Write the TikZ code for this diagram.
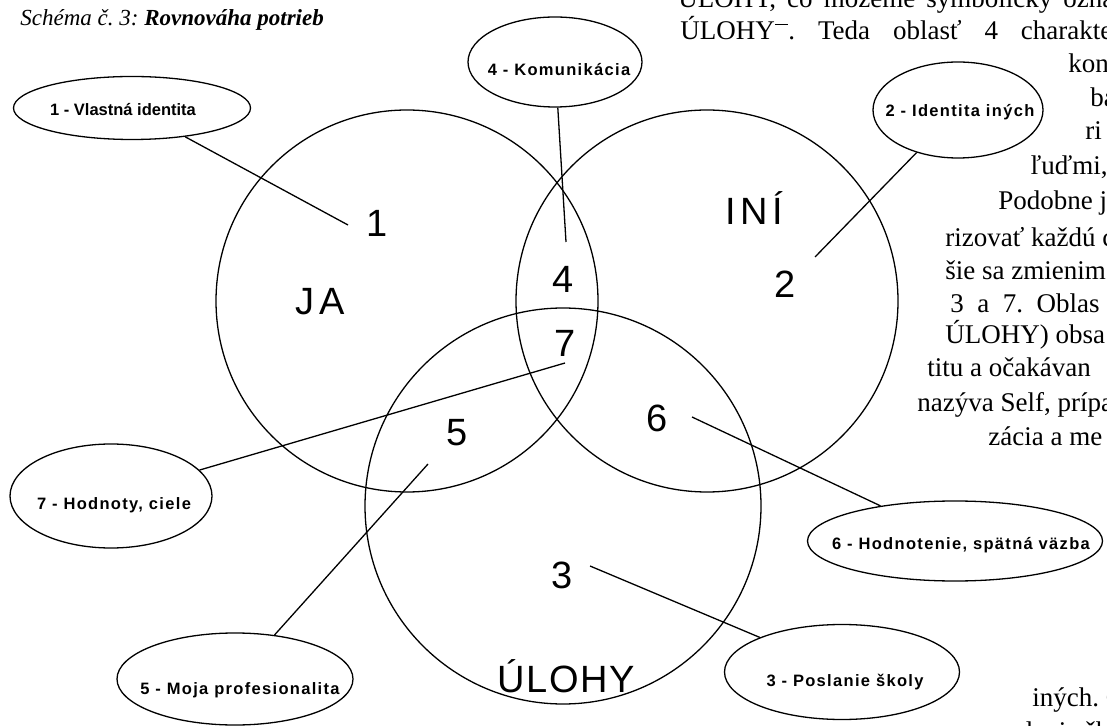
\documentclass[tikz,border=0pt]{standalone}
\usepackage{fontspec}
\setmainfont{Liberation Serif}
\newfontfamily\elab[LetterSpace=8]{Liberation Sans}
\newfontfamily\elabplain{Liberation Sans}
\newfontfamily\biglab[LetterSpace=12]{Liberation Sans}
\newfontfamily\wordlab[LetterSpace=4]{Liberation Sans}
\usetikzlibrary{shapes.geometric}
\frenchspacing
\begin{document}
\begin{tikzpicture}[x=0.5pt,y=-0.5pt,
  circ/.style={circle, draw, inner sep=0pt, line width=0.65pt},
  ell/.style={ellipse, draw, inner sep=0pt, line width=0.65pt},
  etext/.style={font=\elab\bfseries\fontsize{8.25}{10}\selectfont, inner sep=0pt},
  num/.style={font=\biglab\fontsize{19}{22}\selectfont, anchor=base, inner sep=0pt},
  body/.style={font=\fontsize{13.5}{16}\selectfont, anchor=base west, inner sep=0pt},
  link/.style={line width=0.65pt}]
\useasboundingbox (0,0) rectangle (1107,726);
\clip (0,0) rectangle (1107,726);

% title
\node[anchor=base west, inner sep=0pt, font=\fontsize{11.5}{14}\selectfont] (title) at (20,26)
  {\itshape Schéma č. 3: \bfseries Rovnováha potrieb};

% body text fragments
\node[body] (b1) at (678,8) {\makebox[218pt][s]{ÚLOHY, čo môžeme symbolicky ozna}};
\node[body] (b2) at (680,40) {\makebox[216pt][s]{ÚLOHY\raisebox{0.55em}{\rule{0.5em}{0.06em}}. Teda oblasť 4 charakte}};
\node[body] (b3) at (1068,73) {kon};
\node[body] (b4) at (1090,107) {ba};
\node[body] (b5) at (1085,140) {ri};
\node[body] (b6) at (1030,175) {ľuďmi, c};
\node[body] (b7) at (998,210) {Podobne je};
\node[body] (b8) at (945,247) {rizovať každú c};
\node[body] (b9) at (945,280) {šie sa zmienim};
\node[body] (b10) at (950,313) {3\ \ a\ \ 7.\ \ Oblas};
\node[body] (b11) at (945,344) {ÚLOHY) obsa};
\node[body] (b12) at (927,377) {titu a očakávan};
\node[body] (b13) at (917,412) {nazýva Self, prípa};
\node[body] (b14) at (988,446) {zácia a me};
\node[body] (b15) at (1032,706) {iných. C};
\node[body] (b16) at (988,740) {poslanie šk};

% circles
\node[circ, minimum size=191pt] (ja) at (407,301) {};
\node[circ, minimum size=191pt] (ini) at (707,301) {};
\node[circ, minimum size=198pt] (ulohy) at (563,506) {};

% ellipses
\node[ell, minimum width=118.5pt, minimum height=31.5pt] (e1) at (132,108) {};
\node[ell, minimum width=87pt, minimum height=45pt] (e4) at (555,62) {};
\node[ell, minimum width=85pt, minimum height=48pt] (e2) at (958,110) {};
\node[ell, minimum width=101pt, minimum height=52pt] (e7) at (111,496) {};
\node[ell, minimum width=118pt, minimum height=46pt] (e5) at (235,679) {};
\node[ell, minimum width=147.5pt, minimum height=40pt] (e6) at (955,541) {};
\node[ell, minimum width=117.5pt, minimum height=47.5pt] (e3) at (842,672) {};

\node[etext, font=\elabplain\bfseries\fontsize{8.25}{10}\selectfont] (t1) at (123,110) {1 - Vlastná identita};
\node[etext] (t4) at (559,70) {4 - Komunikácia};
\node[etext] (t2) at (960,112) {2 - Identita iných};
\node[etext] (t7) at (114,505) {7 - Hodnoty, ciele};
\node[etext] (t5) at (240,690) {5 - Moja profesionalita};
\node[etext] (t6) at (961,545) {6 - Hodnotenie, spätná väzba};
\node[etext] (t3) at (845,682) {3 - Poslanie školy};

% region labels
\node[num] (n1) at (377,237) {1};
\node[num] (lja) at (320,315) {JA};
\node[num] (lini) at (754,225) {INÍ};
\node[num] (n2) at (785,298) {2};
\node[num] (n4) at (563,293) {4};
\node[num] (n7) at (565,357) {7};
\node[num] (n5) at (457,445) {5};
\node[num] (n6) at (657,432) {6};
\node[num] (n3) at (562,588) {3};
\node[num, font=\wordlab\fontsize{19}{22}\selectfont] (lul) at (566,692) {ÚLOHY};

% connector ends
\coordinate (c1) at (348,225);
\coordinate (c4) at (566,242);
\coordinate (c2) at (815,257);
\coordinate (c7) at (565,363);
\coordinate (c5) at (428,464);
\coordinate (c6) at (692,417);
\coordinate (c3) at (590,566);

\draw[link] (e1) -- (c1);
\draw[link] (e4) -- (c4);
\draw[link] (e2) -- (c2);
\draw[link] (e7) -- (c7);
\draw[link] (e5) -- (c5);
\draw[link] (e6) -- (c6);
\draw[link] (e3) -- (c3);
\end{tikzpicture}
\end{document}
